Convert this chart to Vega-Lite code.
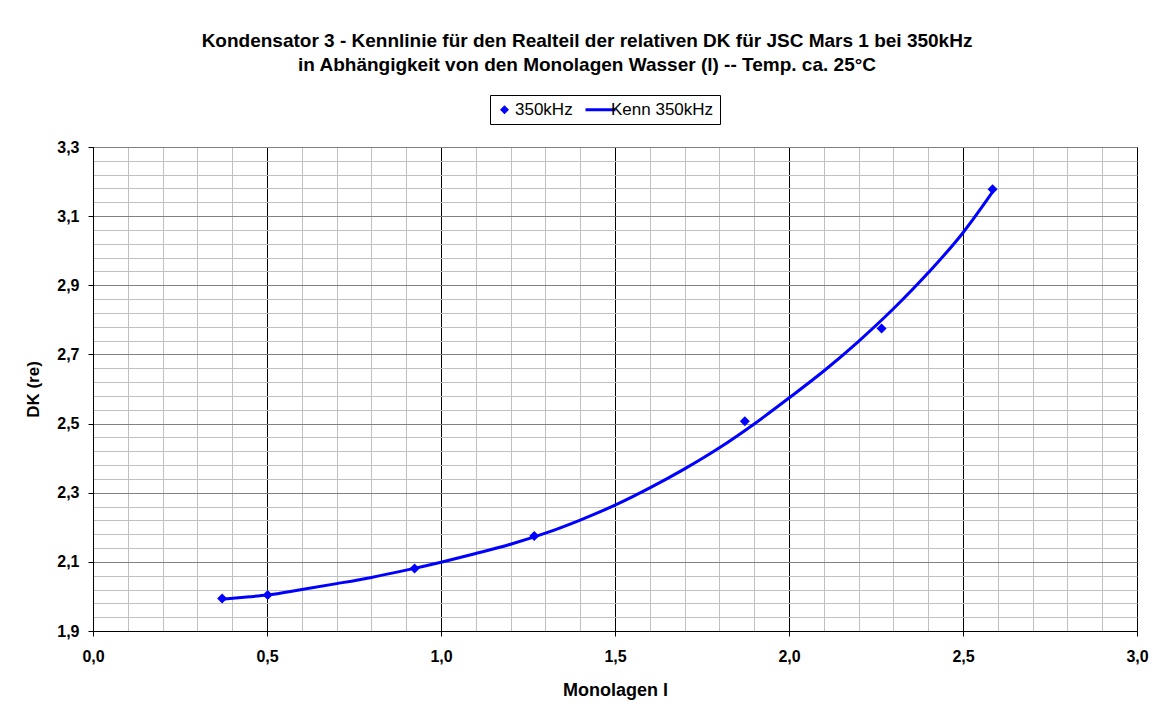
{
  "$schema": "https://vega.github.io/schema/vega-lite/v6.json",
  "width": 1044,
  "height": 484,
  "autosize": {"type": "none"},
  "padding": {"left": 93, "top": 147, "right": 25, "bottom": 82},
  "background": "white",
  "title": {
    "text": ["Kondensator 3 - Kennlinie für den Realteil der relativen DK für JSC Mars 1 bei 350kHz", "in Abhängigkeit von den Monolagen Wasser (l) -- Temp. ca. 25°C"],
    "font": "Liberation Sans",
    "fontSize": 19,
    "fontWeight": "bold",
    "color": "black",
    "anchor": "middle",
    "frame": "group",
    "lineHeight": 24,
    "offset": 20,
    "dx": -28
  },
  "datasets": {
    "messung": [
      {"monolagen": 0.371, "dk": 1.994, "serie": "350kHz"},
      {"monolagen": 0.502, "dk": 2.004, "serie": "350kHz"},
      {"monolagen": 0.924, "dk": 2.081, "serie": "350kHz"},
      {"monolagen": 1.268, "dk": 2.175, "serie": "350kHz"},
      {"monolagen": 1.873, "dk": 2.507, "serie": "350kHz"},
      {"monolagen": 2.266, "dk": 2.775, "serie": "350kHz"},
      {"monolagen": 2.585, "dk": 3.178, "serie": "350kHz"}
    ],
    "kenn": [
      {"monolagen": 0.37, "dk": 1.992, "serie": "Kenn 350kHz"},
      {"monolagen": 0.45, "dk": 1.999, "serie": "Kenn 350kHz"},
      {"monolagen": 0.5, "dk": 2.004, "serie": "Kenn 350kHz"},
      {"monolagen": 0.6, "dk": 2.020, "serie": "Kenn 350kHz"},
      {"monolagen": 0.7, "dk": 2.037, "serie": "Kenn 350kHz"},
      {"monolagen": 0.8, "dk": 2.055, "serie": "Kenn 350kHz"},
      {"monolagen": 0.9, "dk": 2.076, "serie": "Kenn 350kHz"},
      {"monolagen": 1.0, "dk": 2.099, "serie": "Kenn 350kHz"},
      {"monolagen": 1.1, "dk": 2.124, "serie": "Kenn 350kHz"},
      {"monolagen": 1.2, "dk": 2.151, "serie": "Kenn 350kHz"},
      {"monolagen": 1.3, "dk": 2.183, "serie": "Kenn 350kHz"},
      {"monolagen": 1.4, "dk": 2.221, "serie": "Kenn 350kHz"},
      {"monolagen": 1.5, "dk": 2.264, "serie": "Kenn 350kHz"},
      {"monolagen": 1.6, "dk": 2.314, "serie": "Kenn 350kHz"},
      {"monolagen": 1.7, "dk": 2.369, "serie": "Kenn 350kHz"},
      {"monolagen": 1.8, "dk": 2.430, "serie": "Kenn 350kHz"},
      {"monolagen": 1.9, "dk": 2.499, "serie": "Kenn 350kHz"},
      {"monolagen": 2.0, "dk": 2.574, "serie": "Kenn 350kHz"},
      {"monolagen": 2.1, "dk": 2.652, "serie": "Kenn 350kHz"},
      {"monolagen": 2.2, "dk": 2.738, "serie": "Kenn 350kHz"},
      {"monolagen": 2.3, "dk": 2.832, "serie": "Kenn 350kHz"},
      {"monolagen": 2.4, "dk": 2.936, "serie": "Kenn 350kHz"},
      {"monolagen": 2.5, "dk": 3.052, "serie": "Kenn 350kHz"},
      {"monolagen": 2.585, "dk": 3.170, "serie": "Kenn 350kHz"}
    ]
  },
  "layer": [
    {
      "data": {"name": "messung"},
      "mark": {"type": "point", "shape": "diamond", "filled": true, "size": 100, "opacity": 1},
      "encoding": {
        "x": {
          "field": "monolagen", "type": "quantitative",
          "scale": {"domain": [0, 3], "nice": false, "zero": false},
          "axis": {
            "orient": "bottom",
            "values": [0.1, 0.2, 0.3, 0.4, 0.6, 0.7, 0.8, 0.9, 1.1, 1.2, 1.3, 1.4, 1.6, 1.7, 1.8, 1.9, 2.1, 2.2, 2.3, 2.4, 2.6, 2.7, 2.8, 2.9],
            "grid": true, "gridColor": "#c0c0c0", "gridWidth": 1, "gridOpacity": 1,
            "labels": false, "ticks": false, "domain": false, "title": null,
            "minExtent": 0, "maxExtent": 0
          }
        },
        "y": {
          "field": "dk", "type": "quantitative",
          "scale": {"domain": [1.9, 3.3], "nice": false, "zero": false},
          "axis": {
            "orient": "left",
            "values": [1.94, 1.98, 2.02, 2.06, 2.14, 2.18, 2.22, 2.26, 2.34, 2.38, 2.42, 2.46, 2.54, 2.58, 2.62, 2.66, 2.74, 2.78, 2.82, 2.86, 2.94, 2.98, 3.02, 3.06, 3.14, 3.18, 3.22, 3.26],
            "grid": true, "gridColor": "#c0c0c0", "gridWidth": 1, "gridOpacity": 1,
            "labels": false, "ticks": false, "domain": false, "title": null,
            "minExtent": 0, "maxExtent": 0
          }
        },
        "color": {
          "field": "serie", "type": "nominal",
          "scale": {"domain": ["350kHz", "Kenn 350kHz"], "range": ["#0000ff", "#0000ff"]},
          "legend": {
            "title": null,
            "orient": "none",
            "legendX": 397,
            "legendY": -52,
            "direction": "horizontal",
            "strokeColor": "black",
            "fillColor": "white",
            "padding": 6,
            "cornerRadius": 0,
            "labelFont": "Liberation Sans",
            "labelFontSize": 17,
            "labelColor": "black",
            "labelOffset": 2,
            "columnPadding": 6,
            "symbolSize": 900,
            "encode": {
              "symbols": {
                "update": {
                  "shape": {"signal": "datum.value === '350kHz' ? 'diamond' : 'stroke'"},
                  "size": {"signal": "datum.value === '350kHz' ? 81 : 900"},
                  "strokeWidth": {"signal": "datum.value === '350kHz' ? 0 : 3"},
                  "fill": {"value": "#0000ff"},
                  "stroke": {"value": "#0000ff"},
                  "opacity": {"value": 1}
                }
              }
            }
          }
        }
      }
    },
    {
      "data": {"name": "kenn"},
      "mark": {"type": "line", "strokeWidth": 3, "interpolate": "monotone"},
      "encoding": {
        "x": {
          "field": "monolagen", "type": "quantitative",
          "axis": {
            "orient": "bottom",
            "values": [0, 0.5, 1, 1.5, 2, 2.5, 3],
            "grid": true, "gridColor": "#000000", "gridWidth": 1, "gridOpacity": 1,
            "labelExpr": "replace(format(datum.value, '.1f'), '.', ',')",
            "labelFont": "Liberation Sans", "labelFontSize": 16, "labelFontWeight": "bold", "labelColor": "black",
            "labelPadding": 12,
            "ticks": true, "tickSize": 5, "tickColor": "black", "tickWidth": 1,
            "domain": true, "domainColor": "black", "domainWidth": 1,
            "title": "Monolagen l",
            "titleFont": "Liberation Sans", "titleFontSize": 18, "titleFontWeight": "bold", "titleColor": "black",
            "titlePadding": 17
          }
        },
        "y": {
          "field": "dk", "type": "quantitative",
          "axis": {
            "orient": "left",
            "values": [1.9, 2.1, 2.3, 2.5, 2.7, 2.9, 3.1, 3.3],
            "grid": true, "gridColor": "#808080", "gridWidth": 1, "gridOpacity": 1,
            "labelExpr": "replace(format(datum.value, '.1f'), '.', ',')",
            "labelFont": "Liberation Sans", "labelFontSize": 16, "labelFontWeight": "bold", "labelColor": "black",
            "labelPadding": 9,
            "ticks": true, "tickSize": 5, "tickColor": "black", "tickWidth": 1,
            "domain": true, "domainColor": "black", "domainWidth": 1,
            "title": "DK (re)",
            "titleFont": "Liberation Sans", "titleFontSize": 17, "titleFontWeight": "bold", "titleColor": "black",
            "titlePadding": 14
          }
        },
        "color": {
          "field": "serie", "type": "nominal",
          "legend": {
            "title": null,
            "orient": "none",
            "legendX": 397,
            "legendY": -52,
            "direction": "horizontal",
            "strokeColor": "black",
            "fillColor": "white",
            "padding": 6,
            "cornerRadius": 0,
            "labelFont": "Liberation Sans",
            "labelFontSize": 17,
            "labelColor": "black",
            "labelOffset": 2,
            "columnPadding": 6,
            "symbolSize": 900,
            "encode": {
              "symbols": {
                "update": {
                  "shape": {"signal": "datum.value === '350kHz' ? 'diamond' : 'stroke'"},
                  "size": {"signal": "datum.value === '350kHz' ? 81 : 900"},
                  "strokeWidth": {"signal": "datum.value === '350kHz' ? 0 : 3"},
                  "fill": {"value": "#0000ff"},
                  "stroke": {"value": "#0000ff"},
                  "opacity": {"value": 1}
                }
              }
            }
          }
        }
      }
    }
  ],
  "resolve": {"axis": {"x": "independent", "y": "independent"}},
  "config": {
    "view": {"stroke": "black", "strokeWidth": 1},
    "axis": {"labelFlush": false, "labelOverlap": false}
  }
}
